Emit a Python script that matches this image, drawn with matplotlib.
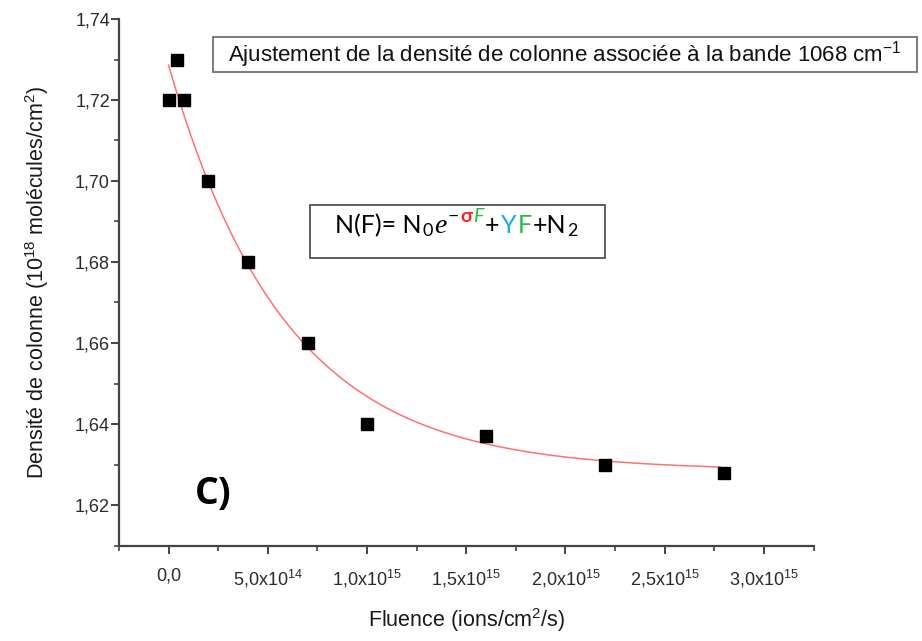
import numpy as np
import matplotlib
matplotlib.use('Agg')
import matplotlib.pyplot as plt
from matplotlib.ticker import MultipleLocator, FixedLocator, FuncFormatter
from matplotlib.patches import Rectangle
from matplotlib.transforms import IdentityTransform

# measured points
fluence = [0, 4e13, 8e13, 2e14, 4e14, 7e14, 1e15, 1.6e15, 2.2e15, 2.8e15]
densite = [1.72, 1.73, 1.72, 1.70, 1.68, 1.66, 1.64, 1.637, 1.63, 1.628]

# fit N(F) = N0*exp(-sigma*F) + Y*F + N2
n0 = 0.1001
sigma = 1.7e-15
y_coef = 0.0
n2 = 1.6285
fit_end = 2.78e15

x_ticks = [0, 5e14, 1e15, 1.5e15, 2e15, 2.5e15, 3e15]
x_labels = ['0,0', '5,0x10$^{14}$', '1,0x10$^{15}$', '1,5x10$^{15}$',
            '2,0x10$^{15}$', '2,5x10$^{15}$', '3,0x10$^{15}$']

plt.rcParams['font.family'] = ['Liberation Sans', 'DejaVu Sans']
plt.rcParams['mathtext.default'] = 'regular'

fig = plt.figure(figsize=(9.22, 6.41), dpi=100)
ax = fig.add_axes([119 / 922, 95.5 / 641, 694.5 / 922, 526.5 / 641])

f = np.linspace(0, fit_end, 400)
ax.plot(f, n0 * np.exp(-sigma * f) + y_coef * f + n2, color='#ff7070', lw=1.1, zorder=2)
ax.plot(fluence, densite, 's', color='black', ms=8, zorder=3)

ax.set_xlim(-2.5e14, 3.25e15)
ax.set_ylim(1.61, 1.74)

for side in ['top', 'right']:
    ax.spines[side].set_visible(False)
for side in ['left', 'bottom']:
    ax.spines[side].set_linewidth(1.6)
    ax.spines[side].set_color('#444444')

ax.xaxis.set_major_locator(FixedLocator(x_ticks))
ax.set_xticklabels(x_labels)
ax.xaxis.set_minor_locator(MultipleLocator(2.5e14))
ax.yaxis.set_major_locator(MultipleLocator(0.02))
ax.yaxis.set_minor_locator(MultipleLocator(0.01))
ax.yaxis.set_major_formatter(FuncFormatter(lambda v, p: f'{v:.2f}'.replace('.', ',')))

ax.tick_params(which='major', length=6, width=1.4, color='#444444',
               labelsize=13, labelcolor='#2a2a2a')
ax.tick_params(axis='y', which='major', pad=0.5)
ax.tick_params(axis='x', which='major', pad=10)
ax.tick_params(which='minor', length=3.5, width=1.2, color='#444444')

ax.set_xlabel('Fluence (ions/cm$^{2}$/s)', fontsize=15.5, color='#1a1a1a', labelpad=12)
ax.set_ylabel('Densité de colonne (10$^{18}$ molécules/cm$^{2}$)', fontsize=15.5,
              color='#1a1a1a', labelpad=17)

px = IdentityTransform()

# title box
fig.add_artist(Rectangle((213, 569), 704, 35, transform=px, fill=False,
                         ec='#666666', lw=1.2))
fig.text(228, 586.5, 'Ajustement de la densité de colonne associée à la bande 1068 cm$^{-1}$',
         transform=px, fontsize=16, va='center', color='#111111')

# equation box
fig.add_artist(Rectangle((310, 383), 295, 53, transform=px, fill=False,
                         ec='#444444', lw=1.2))
fig.canvas.draw()
renderer = fig.canvas.get_renderer()
pieces = [
    ('N(F)= N', 'black', 18, 0, 'normal', 'normal'),
    ('0', 'black', 13, -3, 'normal', 'normal'),
    ('e', 'black', 20, 0, 'italic', 'normal'),
    ('\u2212', 'black', 14, 11, 'normal', 'normal'),
    ('\u03c3', '#ff2020', 14, 11, 'normal', 'bold'),
    ('F', '#22bb44', 14, 11, 'italic', 'normal'),
    ('+', 'black', 18, 0, 'normal', 'normal'),
    ('Y', '#22a8e8', 18, 0, 'normal', 'normal'),
    ('F', '#22bb44', 18, 0, 'normal', 'normal'),
    ('+N', 'black', 18, 0, 'normal', 'normal'),
    ('2', 'black', 13, -3, 'normal', 'normal'),
]
x, base = 335, 408
for s, c, size, dy, style, weight in pieces:
    fam = ['Liberation Serif'] if s == 'e' else ['Lato', 'DejaVu Sans']
    t = fig.text(x, base + dy, s, transform=px, color=c, fontsize=size,
                 style=style, weight=weight, family=fam, va='baseline')
    x += t.get_window_extent(renderer).width + 1.2

# panel label
fig.text(213, 147, 'C)', transform=px, fontsize=27, weight='bold',
         family=['Open Sans', 'DejaVu Sans'], ha='center', va='center')

fig.savefig('out.png', dpi=100)
